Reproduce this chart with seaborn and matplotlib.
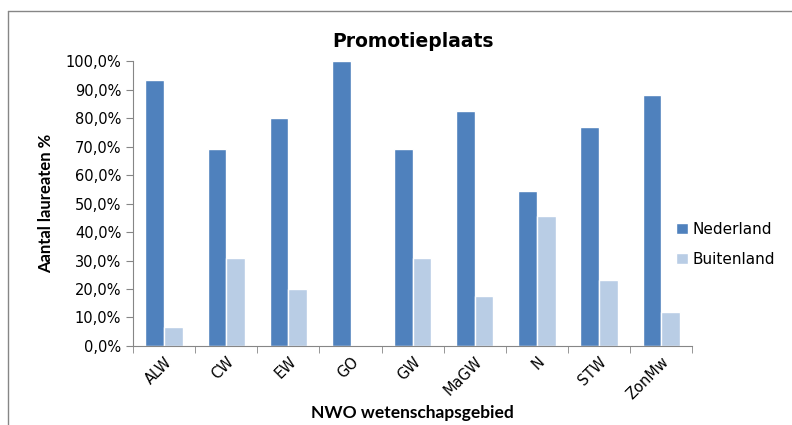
import matplotlib
matplotlib.use("Agg")
import matplotlib.pyplot as plt
import matplotlib.ticker as mticker
from matplotlib.lines import Line2D
import pandas as pd
import seaborn as sns

# data (percentages)
gebieden = ["ALW", "CW", "EW", "GO", "GW", "MaGW", "N", "STW", "ZonMw"]
nederland = [93.3, 69.2, 80.0, 100.0, 69.2, 82.4, 54.5, 76.9, 88.2]
buitenland = [6.7, 30.8, 20.0, 0.0, 30.8, 17.6, 45.5, 23.1, 11.8]
reeksen = ["Nederland", "Buitenland"]
kleuren = ["#4F81BD", "#B9CDE5"]

df = pd.DataFrame({"gebied": gebieden, "Nederland": nederland, "Buitenland": buitenland})
df = df.melt(id_vars="gebied", value_vars=reeksen, var_name="plaats", value_name="pct")

sns.set_style("white")
plt.rcParams["font.family"] = ["DejaVu Sans"]
plt.rcParams["text.color"] = "black"
plt.rcParams["axes.labelcolor"] = "black"
plt.rcParams["xtick.labelcolor"] = "black"
plt.rcParams["ytick.labelcolor"] = "black"

fig = plt.figure(figsize=(7.92, 4.25), dpi=100)
ax = fig.add_axes([0.168, 0.186, 0.706, 0.670])

sns.barplot(data=df, x="gebied", y="pct", hue="plaats", hue_order=reeksen,
            palette=kleuren, width=0.6, saturation=1, ax=ax, legend=True)

ax.set_ylim(0, 100)
ax.set_xlim(-0.5, len(gebieden) - 0.5)
ax.yaxis.set_major_locator(mticker.MultipleLocator(10))
ax.yaxis.set_major_formatter(mticker.FuncFormatter(lambda v, p: f"{v:.1f}%".replace(".", ",")))
ax.tick_params(axis="y", direction="out", length=5, color="#868686", labelcolor="black",
               labelsize=10.5, left=True)

# category ticks between groups, like the original
ax.set_xticks([i - 0.5 for i in range(len(gebieden) + 1)], minor=True)
ax.tick_params(axis="x", which="minor", direction="out", length=5, color="#868686", bottom=True)
ax.tick_params(axis="x", which="major", length=0, labelsize=10.5, labelcolor="black", pad=6)
plt.setp(ax.get_xticklabels(), rotation=45, ha="right", rotation_mode="anchor")

for s in ["top", "right"]:
    ax.spines[s].set_visible(False)
for s in ["left", "bottom"]:
    ax.spines[s].set_color("#868686")

ax.set_ylabel("Aantal laureaten %", fontsize=12, fontweight="bold", labelpad=8,
              family=["Lato", "DejaVu Sans"], color="black")
ax.set_xlabel("NWO wetenschapsgebied", fontsize=12.5, fontweight="bold", labelpad=2,
              family=["Lato", "DejaVu Sans"], color="black")
ax.set_title("Promotieplaats", fontsize=13.5, fontweight="bold", pad=10, color="black")

handles, labels = ax.get_legend_handles_labels()
ax.get_legend().remove()
fig.legend(handles, labels, loc="center left", bbox_to_anchor=(0.836, 0.425),
           frameon=False, fontsize=11, handlelength=0.8, handleheight=0.7,
           handletextpad=0.3, labelspacing=1.0, labelcolor="black")

# chart area border (left and top visible)
fig.add_artist(Line2D([0.010, 0.010], [0.0, 0.974], color="#868686", lw=1))
fig.add_artist(Line2D([0.010, 1.0], [0.974, 0.974], color="#868686", lw=1))

fig.savefig("out.png", dpi=100)
